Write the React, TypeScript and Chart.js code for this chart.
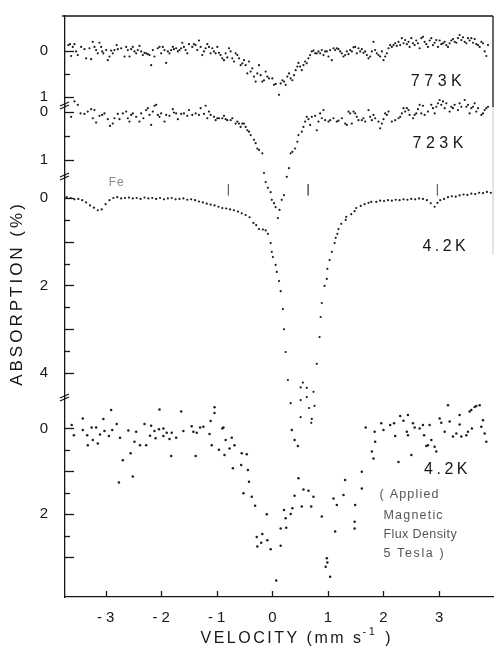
import React, { useEffect, useRef } from 'react';
import { Chart, registerables } from 'chart.js';

Chart.register(...registerables);

// ---------- data: [velocity (mm/s), absorption (%)] ----------
const spectrum773K: [number, number][] = [
  [-3.67,-0.13],[-3.64,-0.15],[-3.62,0.11],[-3.59,-0.09],[-3.56,-0.15],[-3.53,0.01],[-3.50,0.09],[-3.44,-0.09],
  [-3.38,-0.04],[-3.35,0.16],[-3.29,-0.06],[-3.26,0.18],[-3.23,-0.20],[-3.20,-0.09],[-3.17,-0.02],[-3.14,0.05],
  [-3.11,-0.18],[-3.08,-0.09],[-3.06,0.01],[-3.04,0.05],[-2.99,-0.02],[-2.96,0.20],[-2.93,0.12],[-2.90,-0.01],
  [-2.87,0.05],[-2.84,-0.02],[-2.80,-0.13],[-2.78,-0.04],[-2.72,-0.06],[-2.66,0.12],[-2.63,-0.09],[-2.60,-0.02],
  [-2.57,0.12],[-2.54,-0.04],[-2.51,-0.09],[-2.48,0.01],[-2.45,0.05],[-2.42,-0.02],[-2.39,-0.11],[-2.36,0.01],
  [-2.33,0.09],[-2.30,0.04],[-2.27,0.05],[-2.24,0.07],[-2.21,0.09],[-2.18,0.31],[-2.15,-0.02],[-2.12,0.12],
  [-2.06,-0.06],[-2.03,-0.09],[-2.00,0.05],[-1.97,-0.09],[-1.94,-0.02],[-1.91,0.26],[-1.88,0.01],[-1.85,0.05],
  [-1.82,-0.02],[-1.79,-0.09],[-1.77,-0.04],[-1.73,-0.06],[-1.70,0.01],[-1.67,-0.02],[-1.64,-0.06],[-1.62,-0.18],
  [-1.59,-0.09],[-1.56,-0.02],[-1.53,0.05],[-1.50,-0.15],[-1.44,-0.09],[-1.41,-0.15],[-1.38,-0.13],[-1.35,-0.02],
  [-1.32,-0.23],[-1.29,-0.09],[-1.26,0.09],[-1.23,0.01],[-1.20,-0.06],[-1.17,-0.15],[-1.14,-0.09],[-1.11,0.05],
  [-1.08,-0.06],[-1.05,0.01],[-1.02,0.05],[-0.99,-0.09],[-0.96,0.04],[-0.93,0.09],[-0.90,0.16],[-0.87,0.20],
  [-0.84,0.05],[-0.81,0.14],[-0.78,-0.06],[-0.75,0.01],[-0.72,0.16],[-0.69,0.23],[-0.66,0.05],[-0.63,0.09],
  [-0.60,0.16],[-0.57,0.31],[-0.54,0.27],[-0.51,0.20],[-0.48,0.31],[-0.45,0.49],[-0.42,0.23],[-0.39,0.45],
  [-0.36,0.38],[-0.33,0.56],[-0.30,0.67],[-0.27,0.49],[-0.24,0.31],[-0.21,0.53],[-0.18,0.67],[-0.15,0.64],
  [-0.12,0.45],[-0.09,0.56],[-0.06,0.60],[0.00,0.60],[0.03,0.74],[0.06,0.72],[0.12,0.96],[0.15,0.71],
  [0.18,0.64],[0.21,0.67],[0.24,0.74],[0.27,0.56],[0.30,0.49],[0.33,0.60],[0.36,0.64],[0.39,0.53],
  [0.42,0.42],[0.45,0.34],[0.47,0.26],[0.50,0.34],[0.53,0.42],[0.56,0.31],[0.59,0.23],[0.62,0.27],
  [0.65,0.16],[0.68,0.09],[0.71,0.01],[0.74,-0.01],[0.77,0.05],[0.80,0.05],[0.83,0.01],[0.86,0.05],
  [0.89,-0.02],[0.92,0.09],[0.95,0.01],[0.98,0.01],[1.01,0.12],[1.04,-0.02],[1.07,0.20],[1.10,-0.06],
  [1.13,-0.02],[1.16,-0.06],[1.19,-0.04],[1.22,0.01],[1.25,0.05],[1.28,0.12],[1.31,0.09],[1.34,0.01],
  [1.37,0.07],[1.40,-0.02],[1.43,0.01],[1.46,-0.08],[1.49,-0.09],[1.52,0.05],[1.55,-0.06],[1.58,0.01],
  [1.61,-0.04],[1.64,0.04],[1.67,0.01],[1.70,0.09],[1.73,0.16],[1.76,0.12],[1.79,0.01],[1.82,-0.20],
  [1.85,-0.02],[1.88,0.05],[1.91,0.09],[1.94,0.12],[1.97,0.01],[2.00,0.20],[2.03,0.12],[2.06,0.05],
  [2.09,-0.06],[2.12,-0.13],[2.15,-0.09],[2.18,-0.13],[2.21,-0.17],[2.24,-0.11],[2.27,-0.20],[2.30,-0.13],
  [2.33,-0.28],[2.36,-0.17],[2.39,-0.24],[2.42,-0.15],[2.45,-0.20],[2.47,-0.09],[2.50,-0.28],[2.53,-0.17],
  [2.56,-0.13],[2.59,-0.23],[2.62,-0.17],[2.65,-0.06],[2.68,-0.28],[2.71,-0.31],[2.74,-0.20],[2.77,-0.15],
  [2.80,-0.09],[2.83,-0.23],[2.86,-0.28],[2.89,-0.13],[2.92,-0.18],[2.95,-0.24],[2.98,-0.09],[3.01,-0.23],
  [3.04,-0.15],[3.07,-0.17],[3.10,-0.20],[3.13,-0.13],[3.16,-0.09],[3.19,-0.17],[3.22,-0.23],[3.25,-0.26],
  [3.28,-0.20],[3.31,-0.18],[3.34,-0.28],[3.37,-0.35],[3.40,-0.24],[3.43,-0.30],[3.46,-0.20],[3.49,-0.17],
  [3.52,-0.28],[3.55,-0.23],[3.58,-0.28],[3.61,-0.18],[3.64,-0.26],[3.67,-0.15],[3.70,-0.13],[3.73,-0.09],
  [3.76,-0.20],[3.79,-0.17],[3.82,0.01],[3.85,0.11],[3.88,-0.13],
];

const spectrum723K: [number, number][] = [
  [-3.62,0.10],[-3.56,-0.22],[-3.50,-0.15],[-3.45,0.03],[-3.38,0.04],[-3.32,-0.01],[-3.26,-0.06],[-3.23,0.13],
  [-3.20,-0.04],[-3.17,0.22],[-3.11,0.08],[-3.06,0.06],[-3.02,0.03],[-2.96,0.15],[-2.92,0.29],[-2.87,0.24],
  [-2.84,0.13],[-2.78,0.04],[-2.75,0.15],[-2.69,0.03],[-2.63,-0.01],[-2.60,0.13],[-2.57,0.20],[-2.54,0.06],
  [-2.51,0.03],[-2.45,0.10],[-2.39,0.20],[-2.36,0.03],[-2.32,0.13],[-2.27,-0.04],[-2.24,-0.08],[-2.21,0.06],
  [-2.18,0.27],[-2.15,-0.01],[-2.12,-0.13],[-2.09,-0.15],[-2.06,0.06],[-2.03,0.10],[-2.00,0.03],[-1.94,0.20],
  [-1.91,0.06],[-1.85,0.08],[-1.79,-0.06],[-1.77,0.01],[-1.73,0.03],[-1.70,0.15],[-1.64,0.04],[-1.59,0.03],
  [-1.53,0.08],[-1.50,-0.04],[-1.44,0.06],[-1.38,0.03],[-1.32,0.06],[-1.29,-0.08],[-1.23,0.04],[-1.20,-0.13],
  [-1.17,0.13],[-1.14,-0.01],[-1.11,0.06],[-1.05,0.10],[-1.02,0.17],[-0.99,0.13],[-0.96,0.13],[-0.90,0.13],
  [-0.87,0.08],[-0.84,0.15],[-0.81,0.17],[-0.75,0.17],[-0.72,0.13],[-0.66,0.24],[-0.63,0.20],[-0.60,0.24],
  [-0.57,0.31],[-0.54,0.24],[-0.51,0.24],[-0.48,0.31],[-0.45,0.38],[-0.42,0.41],[-0.39,0.48],[-0.33,0.58],
  [-0.30,0.65],[-0.27,0.76],[-0.24,0.79],[-0.18,0.86],[-0.15,1.27],[-0.12,1.46],[-0.08,1.58],[-0.03,1.67],
  [-0.01,1.83],[0.03,1.90],[0.06,1.98],[0.10,2.21],[0.13,2.04],[0.17,1.83],[0.21,1.73],[0.26,1.35],
  [0.30,1.17],[0.33,0.86],[0.36,0.83],[0.41,0.76],[0.45,0.62],[0.47,0.48],[0.53,0.41],[0.56,0.31],
  [0.59,0.20],[0.62,0.10],[0.65,0.15],[0.68,0.27],[0.71,0.10],[0.77,0.08],[0.80,0.38],[0.83,0.20],
  [0.86,0.03],[0.89,0.13],[0.92,-0.04],[0.95,0.17],[1.01,0.20],[1.04,0.17],[1.10,0.13],[1.16,0.20],
  [1.19,0.18],[1.25,0.13],[1.31,0.24],[1.34,0.27],[1.37,-0.01],[1.40,0.03],[1.43,0.24],[1.46,-0.01],
  [1.49,0.03],[1.52,0.10],[1.55,0.17],[1.61,0.17],[1.64,0.13],[1.67,0.20],[1.73,-0.04],[1.76,0.10],
  [1.79,0.17],[1.82,0.06],[1.85,0.13],[1.91,0.20],[1.94,0.34],[1.97,0.24],[2.00,0.15],[2.03,0.03],
  [2.06,0.06],[2.09,-0.01],[2.15,0.20],[2.21,0.17],[2.27,0.13],[2.30,0.10],[2.33,0.03],[2.36,-0.08],
  [2.39,-0.01],[2.42,-0.08],[2.45,-0.04],[2.47,0.06],[2.53,0.13],[2.56,0.06],[2.59,0.03],[2.62,-0.06],
  [2.65,-0.15],[2.68,0.03],[2.71,-0.13],[2.74,0.06],[2.80,-0.01],[2.86,-0.15],[2.89,-0.08],[2.92,0.03],
  [2.95,-0.11],[2.98,-0.18],[3.01,-0.25],[3.04,-0.15],[3.07,-0.22],[3.10,-0.08],[3.13,-0.18],[3.19,-0.01],
  [3.22,-0.11],[3.25,-0.08],[3.28,-0.15],[3.34,-0.04],[3.37,-0.18],[3.40,-0.11],[3.46,-0.25],[3.49,-0.11],
  [3.52,-0.15],[3.55,0.03],[3.58,-0.08],[3.61,-0.11],[3.64,-0.18],[3.67,-0.01],[3.70,-0.08],[3.76,0.06],
  [3.79,0.03],[3.82,-0.04],[3.85,-0.08],[3.88,-0.11],
];

const spectrum42K: [number, number][] = [
  [-3.70,-0.02],[-3.63,0.00],[-3.56,0.03],[-3.49,0.02],[-3.42,0.05],[-3.35,0.10],[-3.28,0.17],[-3.21,0.22],
  [-3.14,0.28],[-3.07,0.26],[-3.00,0.14],[-2.93,0.05],[-2.86,0.00],[-2.79,-0.02],[-2.72,0.01],[-2.65,0.00],
  [-2.58,-0.01],[-2.51,0.01],[-2.44,0.00],[-2.37,0.02],[-2.30,-0.01],[-2.23,0.01],[-2.16,0.00],[-2.09,0.02],
  [-2.02,0.00],[-1.95,0.03],[-1.88,0.01],[-1.81,0.00],[-1.74,0.03],[-1.67,0.02],[-1.60,0.01],[-1.53,0.04],
  [-1.46,0.03],[-1.39,0.05],[-1.32,0.08],[-1.25,0.10],[-1.18,0.13],[-1.11,0.15],[-1.04,0.17],[-0.97,0.20],
  [-0.90,0.23],[-0.83,0.24],[-0.76,0.26],[-0.69,0.28],[-0.62,0.31],[-0.55,0.35],[-0.48,0.39],[-0.41,0.44],
  [-0.34,0.57],[-0.29,0.62],[-0.24,0.71],[-0.17,0.72],[-0.12,0.74],[-0.08,0.82],[-0.03,1.03],[-0.01,1.23],
  [0.01,1.35],[0.06,1.53],[0.08,1.69],[0.12,1.90],[0.15,2.13],[0.19,2.54],[0.21,3.00],[0.24,3.52],
  [0.28,4.16],[0.33,4.69],[0.51,4.33],[0.51,4.62],[0.51,5.01],[0.55,4.22],[0.62,4.34],[0.62,4.55],
  [0.66,4.80],[0.70,5.14],[0.71,5.05],[0.74,4.43],[0.76,4.75],[0.80,3.79],[0.85,3.18],[0.87,2.72],
  [0.89,2.40],[0.94,2.01],[0.98,1.85],[0.99,1.62],[1.03,1.42],[1.07,1.23],[1.12,1.03],[1.14,0.91],
  [1.17,0.82],[1.19,0.71],[1.24,0.59],[1.32,0.50],[1.33,0.43],[1.42,0.37],[1.48,0.30],[1.51,0.23],
  [1.59,0.18],[1.66,0.14],[1.73,0.11],[1.78,0.09],[1.87,0.09],[1.94,0.06],[2.01,0.07],[2.08,0.05],
  [2.15,0.06],[2.22,0.04],[2.29,0.05],[2.36,0.03],[2.43,0.04],[2.50,0.02],[2.57,0.03],[2.64,0.01],
  [2.71,0.02],[2.78,0.05],[2.85,0.12],[2.92,0.20],[2.97,0.11],[3.02,0.05],[3.09,0.02],[3.16,-0.02],
  [3.23,-0.04],[3.30,-0.03],[3.37,-0.06],[3.44,-0.08],[3.51,-0.07],[3.58,-0.10],[3.65,-0.09],[3.72,-0.12],
  [3.79,-0.11],[3.86,-0.14],[3.93,-0.12],
];

const spectrum42KField: [number, number][] = [
  [-3.61,-0.08],[-3.57,0.16],[-3.41,-0.23],[-3.41,0.04],[-3.33,0.16],[-3.32,0.39],[-3.25,-0.02],[-3.23,0.27],
  [-3.17,-0.02],[-3.14,0.35],[-3.10,0.14],[-3.04,-0.22],[-3.02,0.06],[-2.94,0.18],[-2.90,-0.43],[-2.88,0.04],
  [-2.80,-0.10],[-2.76,1.26],[-2.74,0.22],[-2.69,0.74],[-2.59,0.05],[-2.55,0.58],[-2.51,1.12],[-2.48,0.31],
  [-2.45,0.08],[-2.38,0.39],[-2.30,-0.10],[-2.27,0.39],[-2.20,0.17],[-2.18,-0.06],[-2.12,0.06],[-2.10,0.23],
  [-2.04,0.02],[-2.03,-0.44],[-1.96,0.00],[-1.96,0.18],[-1.90,0.10],[-1.85,0.25],[-1.82,0.64],[-1.81,0.10],
  [-1.73,0.22],[-1.64,-0.39],[-1.60,0.06],[-1.45,-0.05],[-1.42,0.08],[-1.38,0.64],[-1.36,0.10],[-1.30,-0.02],
  [-1.24,-0.04],[-1.13,0.13],[-1.11,-0.17],[-1.09,0.39],[-1.04,-0.49],[-1.04,-0.36],[-0.96,0.50],[-0.90,0.00],
  [-0.88,-0.02],[-0.86,0.62],[-0.84,0.27],[-0.77,0.47],[-0.73,0.22],[-0.71,0.93],[-0.68,0.39],[-0.56,0.85],
  [-0.55,0.58],[-0.52,1.51],[-0.46,0.60],[-0.44,0.97],[-0.42,1.24],[-0.37,1.59],[-0.31,1.80],[-0.28,2.53],
  [-0.27,2.75],[-0.20,2.66],[-0.18,2.46],[-0.10,2.00],[-0.09,2.60],[-0.03,2.81],[0.07,3.54],[0.15,2.73],
  [0.15,2.33],[0.21,1.90],[0.24,2.09],[0.25,2.31],[0.33,1.99],[0.35,0.04],[0.36,1.86],[0.40,0.27],
  [0.40,1.57],[0.46,0.41],[0.47,1.16],[0.53,1.82],[0.56,1.42],[0.65,1.45],[0.70,1.82],[0.74,1.59],
  [0.89,2.05],[0.96,3.22],[0.98,3.02],[0.99,3.12],[1.04,3.45],[1.10,1.63],[1.13,2.40],[1.16,1.78],
  [1.28,1.55],[1.31,1.20],[1.48,2.17],[1.48,2.33],[1.49,1.78],[1.61,1.40],[1.61,1.01],[1.68,-0.02],
  [1.79,0.54],[1.82,0.70],[1.84,0.08],[1.85,0.31],[1.96,-0.12],[2.00,0.04],[2.12,-0.08],[2.19,-0.12],
  [2.21,0.18],[2.27,0.78],[2.30,-0.29],[2.36,-0.18],[2.42,0.08],[2.44,-0.31],[2.44,0.16],[2.50,0.62],
  [2.53,-0.12],[2.56,-0.02],[2.65,0.00],[2.71,-0.08],[2.73,0.16],[2.77,0.41],[2.80,0.39],[2.83,-0.08],
  [2.86,0.27],[2.92,0.43],[2.95,0.54],[3.01,-0.23],[3.04,-0.13],[3.10,0.08],[3.16,-0.54],[3.19,-0.16],
  [3.25,0.19],[3.31,0.12],[3.37,-0.31],[3.37,-0.09],[3.40,0.19],[3.49,0.16],[3.52,0.08],[3.55,-0.39],
  [3.58,-0.43],[3.59,0.00],[3.64,-0.50],[3.67,-0.52],[3.73,-0.54],[3.76,-0.04],[3.79,-0.19],[3.82,0.12],
  [3.85,0.31],
];

// Fe reference line positions (mm/s) marked above the 4.2 K spectrum
const feLineVelocities = [-0.79, 0.645, 2.97];
const feMarkTop = -0.32;
const feMarkBottom = -0.06;

// axis ticks and labels
const velocityTicks = [-3, -2, -1, 0, 1, 2, 3];
const ticks773 = [0, 0.5, 1];
const labels773 = [0, 1];
const ticks723 = [0, 0.5, 1];
const labels723 = [0, 1];
const ticks42 = [0, 0.5, 1, 1.5, 2, 2.5, 3, 3.5, 4];
const labels42 = [0, 2, 4];
const ticks42Field = [0, 0.5, 1, 1.5, 2, 2.5, 3];
const labels42Field = [0, 2];

const FONT = "'Liberation Sans', Arial, sans-serif";
const INK = '#161616';

const yAxisTicks: Record<string, number[]> = {
  y773: ticks773,
  y723: ticks723,
  y42: ticks42,
  y42f: ticks42Field,
};

type Note = { text: string; axis: string; v: number; a: number; size: number; spacing: number; align: 'left' | 'center'; color: string };
const notes: Note[] = [
  { text: '773K', axis: 'y773', v: 2.95, a: 0.66, size: 16, spacing: 4.5, align: 'center', color: INK },
  { text: '723K', axis: 'y723', v: 2.98, a: 0.66, size: 16, spacing: 4.5, align: 'center', color: INK },
  { text: '4.2K', axis: 'y42', v: 3.09, a: 1.11, size: 16, spacing: 3.5, align: 'center', color: INK },
  { text: '4.2K', axis: 'y42f', v: 3.12, a: 0.95, size: 16, spacing: 3.5, align: 'center', color: INK },
  { text: '( Applied', axis: 'y42f', v: 1.93, a: 1.55, size: 12.5, spacing: 1.2, align: 'left', color: '#555' },
  { text: 'Magnetic', axis: 'y42f', v: 2.0, a: 2.02, size: 12.5, spacing: 1.2, align: 'left', color: '#555' },
  { text: 'Flux Density', axis: 'y42f', v: 2.0, a: 2.48, size: 12.5, spacing: 0.4, align: 'left', color: '#555' },
  { text: '5 Tesla )', axis: 'y42f', v: 2.0, a: 2.92, size: 12.5, spacing: 1.6, align: 'left', color: '#555' },
  { text: 'Fe', axis: 'y42', v: -2.81, a: -0.35, size: 12, spacing: 1, align: 'center', color: '#888' },
];

const decorPlugin = {
  id: 'decor',
  beforeDraw(chart: any) {
    chart.ctx.letterSpacing = '4px';
  },
  afterDraw(chart: any) {
    const ctx: CanvasRenderingContext2D = chart.ctx;
    const { left, right, top, bottom } = chart.chartArea;
    const xs = chart.scales.x;
    ctx.save();
    (ctx as any).letterSpacing = '0px';
    ctx.strokeStyle = INK;
    ctx.lineWidth = 1.3;
    const seg = (x1: number, y1: number, x2: number, y2: number) => {
      ctx.beginPath();
      ctx.moveTo(x1, y1);
      ctx.lineTo(x2, y2);
      ctx.stroke();
    };
    // frame: top and right edge
    seg(left - 3, top, right, top);
    const y773 = chart.scales.y773;
    seg(right, top, right, y773.bottom + 2);
    ctx.strokeStyle = '#c8c8c8';
    ctx.lineWidth = 1;
    seg(right, y773.bottom + 2, right, chart.scales.y42.getPixelForValue(1.3));
    ctx.strokeStyle = INK;
    ctx.lineWidth = 1.3;
    // inward ticks on the stacked absorption axes
    for (const id of Object.keys(yAxisTicks)) {
      const s = chart.scales[id];
      for (const t of yAxisTicks[id]) {
        const y = Math.round(s.getPixelForValue(t)) + 0.5;
        const len = Number.isInteger(t) ? 9 : 5;
        seg(left, y, left + len, y);
      }
    }
    // inward ticks on velocity axis
    for (const t of velocityTicks) {
      const x = Math.round(xs.getPixelForValue(t)) + 0.5;
      seg(x, bottom, x, bottom - 6);
    }
    // axis breaks between the stacked spectra
    for (const id of ['y723', 'y42', 'y42f']) {
      const y = chart.scales[id].top;
      seg(left - 5, y + 1, left + 4, y - 3);
      seg(left - 5, y + 4, left + 4, y);
    }
    // annotations
    for (const n of notes) {
      const x = xs.getPixelForValue(n.v);
      const y = chart.scales[n.axis].getPixelForValue(n.a);
      ctx.font = `${n.size}px ${FONT}`;
      (ctx as any).letterSpacing = `${n.spacing}px`;
      ctx.fillStyle = n.color;
      ctx.textBaseline = 'middle';
      ctx.textAlign = n.align;
      ctx.fillText(n.text, n.align === 'center' ? x + n.spacing / 2 : x, y);
    }
    // y axis title
    ctx.save();
    ctx.translate(17, 295);
    ctx.rotate(-Math.PI / 2);
    ctx.font = `17px ${FONT}`;
    (ctx as any).letterSpacing = '3px';
    ctx.fillStyle = INK;
    ctx.textAlign = 'center';
    ctx.textBaseline = 'middle';
    ctx.fillText('ABSORPTION (%)', 1.5, 0);
    ctx.restore();
    // x axis title with superscript
    const main = `16px ${FONT}`;
    const sup = `11px ${FONT}`;
    (ctx as any).letterSpacing = '2.5px';
    ctx.font = main;
    const p1 = 'VELOCITY (mm s';
    const p3 = ' )';
    const w1 = ctx.measureText(p1).width;
    const w3 = ctx.measureText(p3).width;
    ctx.font = sup;
    const p2 = '-1';
    const w2 = ctx.measureText(p2).width;
    const cx = xs.getPixelForValue(0.44);
    let x0 = cx - (w1 + w2 + w3) / 2;
    const ty = 639;
    ctx.fillStyle = INK;
    ctx.textAlign = 'left';
    ctx.textBaseline = 'middle';
    ctx.font = main;
    ctx.fillText(p1, x0, ty);
    x0 += w1;
    ctx.font = sup;
    ctx.fillText(p2, x0 - 1, ty - 7);
    x0 += w2;
    ctx.font = main;
    ctx.fillText(p3, x0, ty);
    ctx.restore();
    (ctx as any).letterSpacing = '0px';
  },
};

function noPadding(s: any) {
  s.paddingTop = 0;
  s.paddingBottom = 0;
  s.paddingLeft = 0;
  s.paddingRight = 0;
}

function yAxis(ticks: number[], labels: number[], min: number, max: number, weight: number) {
  return {
    type: 'linear' as const,
    position: 'left' as const,
    stack: 'absorption',
    stackWeight: weight,
    reverse: true,
    min,
    max,
    grid: { display: false, drawTicks: false },
    border: { display: true, color: INK, width: 1.3 },
    afterBuildTicks: (s: any) => {
      s.ticks = ticks.map((value) => ({ value }));
    },
    afterFit: (s: any) => {
      s.width = 65;
      noPadding(s);
    },
    ticks: {
      padding: 13,
      color: INK,
      font: { family: FONT, size: 15 },
      callback: (value: any) => (labels.includes(Number(value)) ? String(value) : ''),
    },
  };
}

function scatterSet(points: [number, number][], axis: string, radius: number) {
  return {
    type: 'scatter' as const,
    data: points.map(([x, y]) => ({ x, y })),
    yAxisID: axis,
    pointRadius: radius,
    pointBackgroundColor: '#1c1c1c',
    pointBorderWidth: 0,
    showLine: false,
    clip: false as const,
  };
}

export default function App() {
  const ref = useRef<HTMLCanvasElement | null>(null);
  useEffect(() => {
    if (!ref.current) return;
    const feSets = feLineVelocities.map((v) => ({
      type: 'line' as const,
      data: [
        { x: v, y: feMarkTop },
        { x: v, y: feMarkBottom },
      ],
      yAxisID: 'y42',
      borderColor: '#666',
      borderWidth: 1,
      pointRadius: 0,
      clip: false as const,
    }));
    const chart = new Chart(ref.current, {
      type: 'scatter',
      data: {
        datasets: [
          scatterSet(spectrum773K, 'y773', 1.1),
          scatterSet(spectrum723K, 'y723', 1.1),
          scatterSet(spectrum42K, 'y42', 1.1),
          scatterSet(spectrum42KField, 'y42f', 1.25),
          ...feSets,
        ] as any,
      },
      options: {
        responsive: false,
        animation: false,
        events: [],
        layout: { padding: { top: 16, right: 2, bottom: 0, left: 0 } },
        plugins: { legend: { display: false }, tooltip: { enabled: false }, title: { display: false } },
        scales: {
          x: {
            type: 'linear',
            position: 'bottom',
            min: -3.73,
            max: 3.97,
            grid: { display: false, drawTicks: false },
            border: { display: true, color: INK, width: 1.3 },
            afterBuildTicks: (s: any) => {
              s.ticks = velocityTicks.map((value) => ({ value }));
            },
            afterFit: (s: any) => {
              s.height = 52;
              noPadding(s);
            },
            ticks: {
              padding: 12,
              labelOffset: 2,
              color: INK,
              font: { family: FONT, size: 15 },
              callback: (value: any) => String(value),
            },
          },
          y42f: yAxis(ticks42Field, labels42Field, -0.73, 3.923, 200),
          y42: yAxis(ticks42, labels42, -0.503, 4.549, 221),
          y723: yAxis(ticks723, labels723, -0.146, 1.333, 71),
          y773: yAxis(ticks773, labels773, -0.766, 1.182, 89),
        } as any,
      },
      plugins: [decorPlugin],
    });
    return () => chart.destroy();
  }, []);
  return (
    <div style={{ position: 'fixed', left: 0, top: 0, width: 497, height: 649, background: '#fff' }}>
      <canvas ref={ref} width={497} height={649} style={{ display: 'block' }} />
    </div>
  );
}
